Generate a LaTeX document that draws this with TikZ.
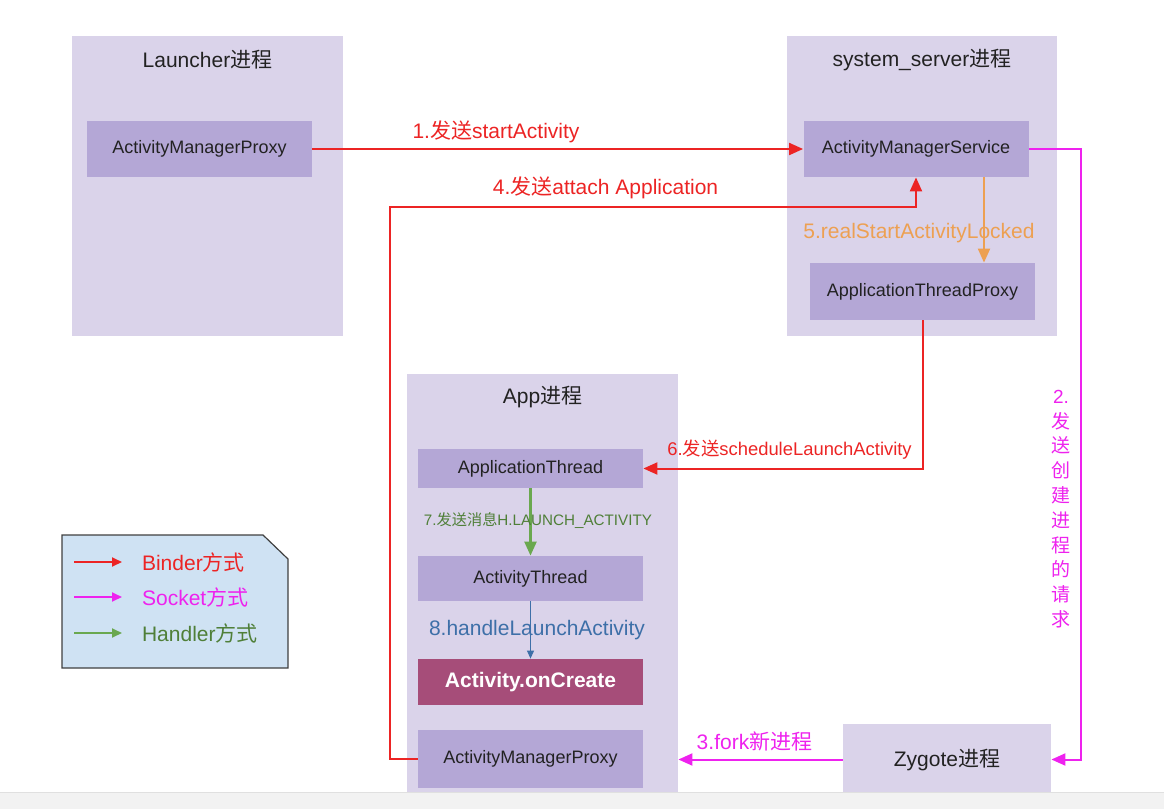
\documentclass[tikz,border=0pt]{standalone}
\usepackage{fontspec}
\setmainfont{Liberation Sans}
\newfontfamily\cjkfont{Noto Sans CJK SC}
\newcommand{\zh}[1]{{\cjkfont #1}}
\usetikzlibrary{arrows.meta,positioning}

\definecolor{procbg}{HTML}{DAD3EA}
\definecolor{partbg}{HTML}{B4A7D6}
\definecolor{createbg}{HTML}{A64D79}
\definecolor{txt}{HTML}{222222}
\definecolor{binder}{HTML}{EC2424}
\definecolor{socket}{HTML}{EE22EE}
\definecolor{handler}{HTML}{6AA84F}
\definecolor{handlertxt}{HTML}{4F7F38}
\definecolor{locked}{HTML}{EDA052}
\definecolor{launch}{HTML}{3D6FA8}
\definecolor{legendbg}{HTML}{CFE2F3}

\tikzset{
  proc/.style={fill=procbg,inner sep=0pt},
  part/.style={fill=partbg,text=txt,inner sep=0pt,minimum width=112.5pt,minimum height=28pt,font=\fontsize{9}{11}\selectfont},
  ptitle/.style={text=txt,font=\fontsize{10.5}{12}\selectfont},
  lbl/.style={font=\fontsize{10.5}{12}\selectfont},
  binderline/.style={draw=binder,line width=1pt,-{Triangle[length=7pt,width=6pt]}},
  socketline/.style={draw=socket,line width=1pt,-{Triangle[length=7pt,width=6pt]}},
}

\begin{document}
\begin{tikzpicture}[x=0.5pt,y=-0.5pt]
\useasboundingbox (0,0) rectangle (1164,809);

% processes
\node[proc,minimum width=135.5pt,minimum height=150pt] (launcher) at (207.5,186) {};
\node[ptitle] (launcherT) at (207.5,60) {Launcher\zh{进程}};
\node[part] (lamp) at (199.5,149) {ActivityManagerProxy};

\node[proc,minimum width=135pt,minimum height=150pt] (sys) at (922,186) {};
\node[ptitle] (sysT) at (922,60) {system\_server\zh{进程}};
\node[part] (ams) at (916,149) {ActivityManagerService};
\node[part,minimum height=28.5pt] (atp) at (922.5,291.5) {ApplicationThreadProxy};

\node[proc,minimum width=135.5pt,minimum height=218pt] (app) at (542.5,592) {};
\node[ptitle] (appT) at (542.5,397) {App\zh{进程}};
\node[part,minimum height=19.5pt] (athr) at (530.5,468.5) {ApplicationThread};
\node[part,minimum height=22.5pt] (actthr) at (530.5,578.5) {ActivityThread};
\node[part,fill=createbg,text=white,minimum height=23pt,font=\fontsize{10.5}{12}\bfseries] (oncreate) at (530.5,682) {Activity.onCreate};
\node[part,minimum height=29pt] (aamp) at (530.5,759) {ActivityManagerProxy};

\node[proc,ptitle,minimum width=104pt,minimum height=35.5pt] (zygote) at (947,759.5) {Zygote\zh{进程}};

% binder calls
\draw[binderline] (lamp.east) -- (ams.west);
\node[lbl,text=binder] (l1) at (496,132) {1.\zh{发送}startActivity};

\draw[binderline] (aamp.west) -- ++(-28,0) |- (ams.south |- 0,207) -- (ams.south);
\node[lbl,text=binder] (l4) at (605.5,188) {4.\zh{发送}attach Application};

\draw[draw=locked,line width=1pt,-{Triangle[length=7pt,width=6pt]}] (ams.south -| 984,0) -- (atp.north -| 984,0);
\node[lbl,text=locked] (l5) at (919,233) {5.realStartActivityLocked};

\draw[binderline] (atp.south) |- (athr.east);
\node[text=binder,font=\fontsize{9.2}{11}\selectfont] (l6) at (789.5,450) {6.\zh{发送}scheduleLaunchActivity};

% inside the app
\draw[draw=handler,line width=1.2pt,-{Triangle[length=7pt,width=6pt]}] (athr.south) -- (actthr.north);
\node[text=handlertxt,font=\fontsize{7.6}{9}\selectfont] (l7) at (538,521) {7.\zh{发送消息}H.LAUNCH\_ACTIVITY};

\draw[draw=launch,line width=0.5pt,-{Triangle[length=4pt,width=3.5pt]}] (actthr.south) -- (oncreate.north);
\node[lbl,text=launch] (l8) at (537,630) {8.handleLaunchActivity};

% socket to zygote
\draw[socketline] (ams.east) -- ++(52,0) |- (zygote.east);
\node[text=socket,align=center,font=\fontsize{9.5}{12.4}\selectfont] (l2) at (1061,509)
  {2.\\\zh{发}\\\zh{送}\\\zh{创}\\\zh{建}\\\zh{进}\\\zh{程}\\\zh{的}\\\zh{请}\\\zh{求}};

\draw[socketline] (zygote.west) -- (app.east |- zygote.west);
\node[lbl,text=socket] (l3) at (754.5,741) {3.fork\zh{新进程}};

% legend
\draw[draw=black!75,fill=legendbg,line width=0.6pt] (62,535) -- (263,535) -- (288,559) -- (288,668) -- (62,668) -- cycle;
\coordinate (k1) at (74,562);
\coordinate (k2) at (74,597);
\coordinate (k3) at (74,633);
\draw[draw=binder,line width=1pt,-{Triangle[length=5pt,width=4.5pt]}] (k1) -- ++(48,0);
\node[lbl,text=binder,anchor=west] (kb) at (135,562) {Binder\zh{方式}};
\draw[draw=socket,line width=1pt,-{Triangle[length=5pt,width=4.5pt]}] (k2) -- ++(48,0);
\node[lbl,text=socket,anchor=west] (ks) at (135,597) {Socket\zh{方式}};
\draw[draw=handler,line width=1pt,-{Triangle[length=5pt,width=4.5pt]}] (k3) -- ++(48,0);
\node[lbl,text=handlertxt,anchor=west] (kh) at (135,633) {Handler\zh{方式}};

% page strip
\fill[black!5] (0,792) rectangle (1164,809);
\draw[black!12,line width=0.5pt] (0,792) -- (1164,792);
\end{tikzpicture}
\end{document}
